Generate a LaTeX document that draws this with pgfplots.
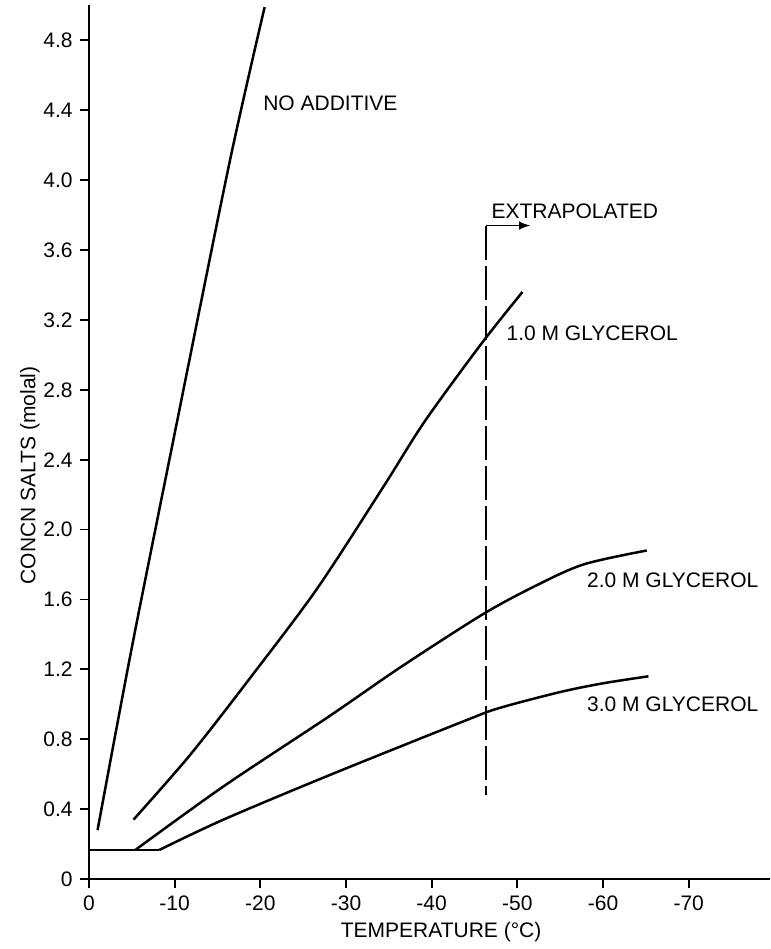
\documentclass[border=0pt]{standalone}
\usepackage{fontspec}
\setmainfont{Liberation Sans}
\usepackage{pgfplots}
\pgfplotsset{compat=1.18}
\begin{document}
\fontsize{10.5}{12.6}\selectfont
\begin{tikzpicture}[curve/.style={black, no marks, line width=1.25pt}]
\begin{axis}[
  scale only axis, width=340.5pt, height=436.75pt,
  x dir=reverse, xmin=-79.5, xmax=0, ymin=0, ymax=5.0,
  axis x line*=bottom, axis y line*=left,
  tick align=outside, major tick length=4.5pt,
  xtick={0,-10,-20,-30,-40,-50,-60,-70},
  xticklabels={0,-10,-20,-30,-40,-50,-60,-70},
  ytick={0,0.4,0.8,1.2,1.6,2.0,2.4,2.8,3.2,3.6,4.0,4.4,4.8},
  yticklabels={0,0.4,0.8,1.2,1.6,2.0,2.4,2.8,3.2,3.6,4.0,4.4,4.8},
  /pgf/number format/assume math mode=true,
  ticklabel style={font=\fontsize{10.5}{12}\selectfont},
  label style={font=\fontsize{10.5}{12}\selectfont},
  xlabel={TEMPERATURE (°C)}, ylabel={CONCN SALTS (molal)},
  xlabel style={at={(axis cs:-41.1,-0.303)},anchor=center},
  ylabel style={at={(axis cs:6.88,2.31)},anchor=center},
  axis line style={line width=1pt},
  every tick/.style={black, line width=0.9pt},
  clip=false,
]
% NO ADDITIVE
\addplot[curve, smooth, tension=0.5] coordinates {(-1,0.28) (-3.2,0.86) (-5.5,1.45) (-10,2.55) (-16.4,4.10) (-20.5,4.99)};
% 1.0 M glycerol
\addplot[curve, smooth, tension=0.5] coordinates {(-5.2,0.34) (-11.8,0.71) (-18.8,1.15) (-26.6,1.66) (-34.3,2.24) (-39.2,2.62) (-45.9,3.07) (-50.6,3.36)};
% 2.0 M glycerol
\addplot[curve] coordinates {(0,0.166) (-5.4,0.166)};
\addplot[curve, smooth, tension=0.5] coordinates {(-5.4,0.166) (-15.7,0.53) (-28.0,0.93) (-36.3,1.21) (-45.8,1.51) (-51.8,1.67) (-57.7,1.80) (-65.1,1.88)};
% 3.0 M glycerol
\addplot[curve] coordinates {(0,0.166) (-8.2,0.166)};
\addplot[curve, smooth, tension=0.5] coordinates {(-8.2,0.166) (-15.7,0.34) (-28.1,0.595) (-44.1,0.91) (-48.0,0.98) (-55,1.07) (-60,1.12) (-65.3,1.16)};
% extrapolated boundary
\addplot[black, no marks, line width=0.9pt, dash pattern=on 17pt off 3pt] coordinates {(-46.3,3.74) (-46.3,0.48)};
\addplot[black, no marks, line width=0.9pt, -latex] coordinates {(-46.3,3.74) (-51.5,3.74)};
\node[anchor=west, inner sep=0] at (axis cs:-20.3,4.44) {NO ADDITIVE};
\node[anchor=west, inner sep=0] at (axis cs:-46.95,3.82) {EXTRAPOLATED};
\node[anchor=west, inner sep=0] at (axis cs:-48.7,3.125) {1.0 M GLYCEROL};
\node[anchor=west, inner sep=0] at (axis cs:-58.1,1.71) {2.0 M GLYCEROL};
\node[anchor=west, inner sep=0] at (axis cs:-58.1,1.0) {3.0 M GLYCEROL};
\coordinate (bl) at (axis cs:10.39,-0.4007);
\coordinate (tr) at (axis cs:-79.5,5.031);
\end{axis}
\pgfresetboundingbox
\useasboundingbox (bl) rectangle (tr);
\end{tikzpicture}
\end{document}
